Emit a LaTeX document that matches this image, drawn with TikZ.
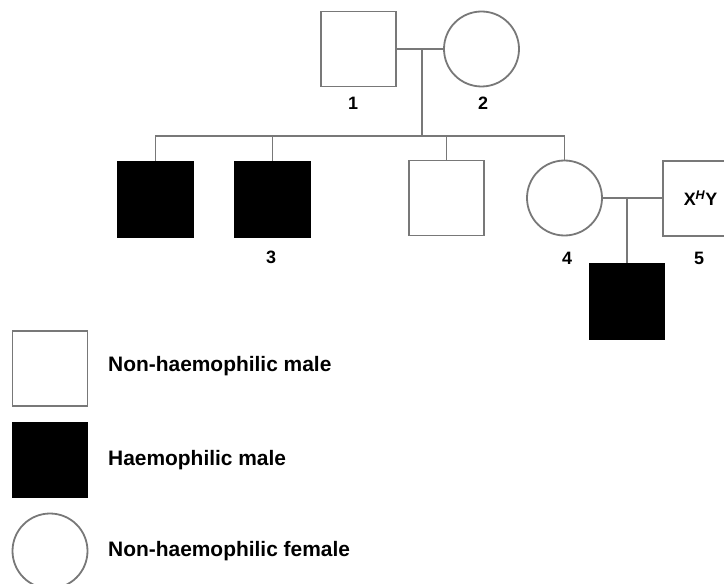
\documentclass[tikz,border=0pt]{standalone}
\usepackage{fontspec}
\setmainfont{Liberation Sans}
\usepackage{xcolor}
\definecolor{linegrey}{RGB}{120,120,120}
\usetikzlibrary{positioning,calc}

\tikzset{
    line/.style={draw=linegrey, line width=1.8bp},
    male/.style={line, rectangle, minimum size=75bp, inner sep=0pt, fill=white},
    affected/.style={male, draw=black, fill=black},
    female/.style={line, circle, minimum size=75bp, inner sep=0pt, fill=white},
    lbl/.style={font=\bfseries\fontsize{18}{21}\selectfont, inner sep=0pt},
    legtext/.style={font=\bfseries\fontsize{21}{24}\selectfont, inner sep=0pt, anchor=west}
}

\begin{document}
\begin{tikzpicture}[x=1bp,y=-1bp]
        \useasboundingbox (0,0) rectangle (724,584);                            % Rahmen
        \clip (0,0) rectangle (724,584);
        % Eltern
        \node[male]   (p1) at (358.5,49) {};                                    % Vater 1
        \node[female] (p2) at (481.5,49) {};                                    % Mutter 2
        \node[lbl] (l1) at (353,103) {1};
        \node[lbl] (l2) at (483,103) {2};
        \coordinate (mate1) at (422,49);                                        % Mitte Paarlinie
        \coordinate (sib) at (422,136);                                         % Geschwisterlinie
        % Kinder
        \node[affected] (c1) at (155.5,199.5) {};
        \node[affected] (c2) at (272.5,199.5) {};                               % 3
        \node[male]     (c3) at (446.5,198) {};
        \node[female]   (c4) at (564.5,198) {};                                 % 4
        \node[male, font=\bfseries\fontsize{18}{21}\selectfont]
                        (c5) at (700.5,198.5) {X\textsuperscript{\itshape H}Y}; % 5
        \node[lbl] (l3) at (271,257) {3};
        \node[lbl] (l4) at (567,258) {4};
        \node[lbl] (l5) at (699,258) {5};
        \coordinate (mate2) at (627,198);                                       % Mitte Paarlinie 4-5
        % Enkel
        \node[affected] (g1) at (627,301.5) {};
        % Linien
        \draw[line] (p1.east) -- (p2.west);
        \draw[line] (mate1) -- (sib);
        \draw[line] (c1.north) -- (c1.north |- sib) -- (c4.north |- sib) -- (c4.north);
        \draw[line] (c2.north) -- (c2.north |- sib);
        \draw[line] (c3.north) -- (c3.north |- sib);
        \draw[line] (c4.east) -- (c4.east -| c5.west);
        \draw[line] (mate2) -- (g1.north);
        % Legende
        \node[male]     (k1) at (50,368.5) {};
        \node[affected] (k2) at (50,460) {};
        \node[female]   (k3) at (50,551) {};
        \node[legtext] (t1) at (108,366) {Non-haemophilic male};
        \node[legtext] (t2) at (108,460) {Haemophilic male};
        \node[legtext] (t3) at (108,551) {Non-haemophilic female};
    \end{tikzpicture}
\end{document}
